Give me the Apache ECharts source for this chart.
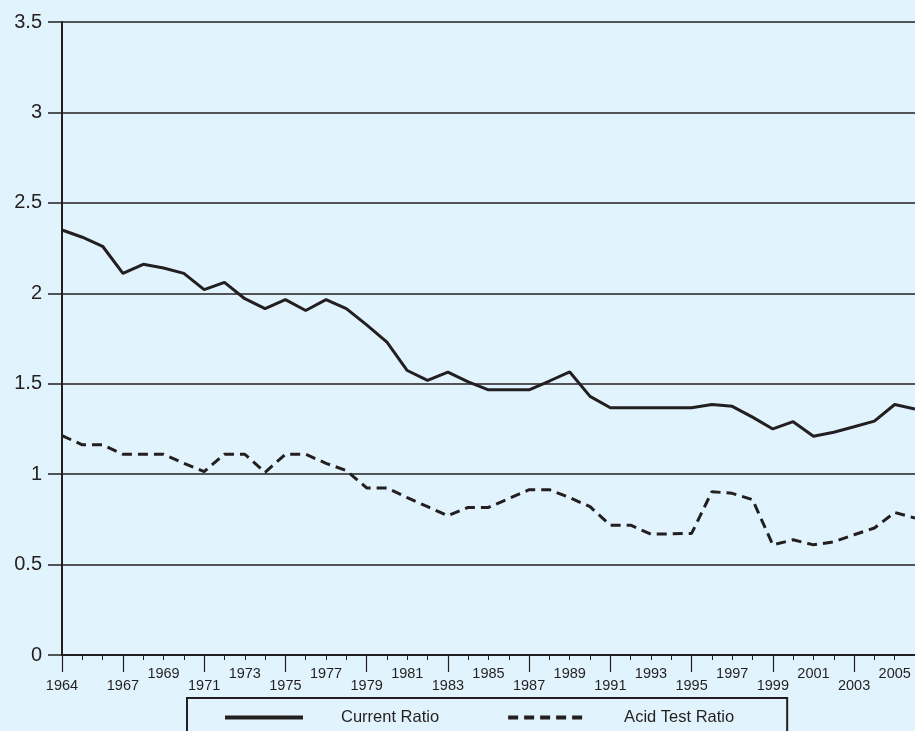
<!DOCTYPE html>
<html>
<head>
<meta charset="utf-8">
<script src="https://cdn.jsdelivr.net/npm/echarts@6/dist/echarts.min.js"></script>
<style>
html,body{margin:0;padding:0;background:#e1f3fd;}
#chart{width:915px;height:731px;}
</style>
</head>
<body>
<div id="chart"></div>
<script>
var years = ['1964','1965','1966','1967','1968','1969','1970','1971','1972','1973','1974','1975','1976','1977','1978','1979','1980','1981','1982','1983','1984','1985','1986','1987','1988','1989','1990','1991','1992','1993','1994','1995','1996','1997','1998','1999','2000','2001','2002','2003','2004','2005','2006'];
var currentRatio = [2.35,2.31,2.26,2.11,2.16,2.14,2.11,2.02,2.06,1.97,1.915,1.965,1.905,1.965,1.915,1.825,1.73,1.573,1.518,1.564,1.51,1.466,1.466,1.466,1.515,1.565,1.43,1.367,1.367,1.367,1.367,1.367,1.385,1.375,1.315,1.25,1.29,1.21,1.232,1.262,1.293,1.385,1.36];
var acidTestRatio = [1.213,1.162,1.162,1.11,1.11,1.11,1.06,1.014,1.11,1.11,1.01,1.11,1.11,1.06,1.02,0.924,0.924,0.87,0.82,0.77,0.816,0.816,0.865,0.914,0.914,0.87,0.82,0.718,0.718,0.668,0.67,0.672,0.903,0.894,0.859,0.609,0.637,0.609,0.626,0.665,0.702,0.788,0.757];
var lowLabels = ['1964','1967','1971','1975','1979','1983','1987','1991','1995','1999','2003'];
var highLabels = ['1969','1973','1977','1981','1985','1989','1993','1997','2001','2005'];

var ink = '#231f20';
var chart = echarts.init(document.getElementById('chart'));
chart.setOption({
  backgroundColor: '#e1f3fd',
  animation: false,
  textStyle: {fontFamily: 'Liberation Sans, Arial, sans-serif'},
  grid: {left: 62, right: 0, top: 22, bottom: 76, containLabel: false},
  xAxis: [{
    type: 'category', data: years, boundaryGap: false, position: 'bottom',
    axisLine: {show: true, lineStyle: {color: ink, width: 2}},
    axisTick: {show: true, interval: 0, length: 5, lineStyle: {color: ink, width: 1}},
    axisLabel: {
      interval: function (i, v) { return highLabels.indexOf(v) >= 0; },
      margin: 11, fontSize: 14.5, color: ink
    },
    splitLine: {show: false}
  }, {
    type: 'category', data: years, boundaryGap: false, position: 'bottom', offset: 0,
    axisLine: {show: false},
    axisTick: {show: true, interval: function (i, v) { return lowLabels.indexOf(v) >= 0; }, length: 17, lineStyle: {color: ink, width: 1.2}},
    axisLabel: {
      interval: function (i, v) { return lowLabels.indexOf(v) >= 0; },
      margin: 23, fontSize: 14.5, color: ink
    },
    splitLine: {show: false}
  }],
  yAxis: {
    type: 'value', min: 0, max: 3.5, interval: 0.5,
    axisLine: {show: true, lineStyle: {color: ink, width: 2}},
    axisTick: {show: true, length: 14, lineStyle: {color: ink, width: 1.5}},
    axisLabel: {margin: 20, fontSize: 20, color: ink, formatter: function (v) { return String(v); }},
    splitLine: {show: true, lineStyle: {color: ink, width: 1.5}}
  },
  legend: {
    show: true, left: 187, top: 698,
    orient: 'horizontal',
    padding: [11, 53, 40, 36],
    itemGap: 67, itemWidth: 78, itemHeight: 14,
    borderColor: ink, borderWidth: 2,
    backgroundColor: 'transparent',
    itemStyle: {color: 'transparent', borderColor: 'transparent', borderWidth: 0, opacity: 0},
    lineStyle: {width: 4},
    textStyle: {fontSize: 16.5, color: ink, padding: [0, 0, 0, 33]},
    data: ['Current Ratio', 'Acid Test Ratio']
  },
  series: [{
    name: 'Current Ratio', type: 'line', data: currentRatio, xAxisIndex: 0,
    symbol: 'none', lineStyle: {color: ink, width: 3}, itemStyle: {color: ink}
  }, {
    name: 'Acid Test Ratio', type: 'line', data: acidTestRatio, xAxisIndex: 0,
    symbol: 'none', lineStyle: {color: ink, width: 3, type: [10, 6]}, itemStyle: {color: ink}
  }]
});
</script>
</body>
</html>
